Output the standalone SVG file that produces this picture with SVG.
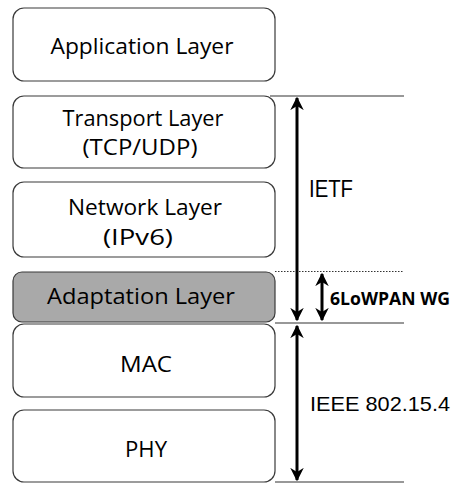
<svg xmlns="http://www.w3.org/2000/svg" width="456" height="483" viewBox="0 0 456 483">
<defs>
<style>
.box{fill:#ffffff;stroke:#3a3a3a;stroke-width:1.2}
.ad{fill:#a9a9a9;stroke:#3a3a3a;stroke-width:1.2}
.t{font-family:"Open Sans","Liberation Sans",sans-serif;font-size:21px;fill:#000;text-anchor:middle}
.lbl{font-family:"Liberation Sans",sans-serif;font-size:23px;fill:#000}
.wg{font-family:"Open Sans","Liberation Sans",sans-serif;font-size:18px;font-weight:bold;fill:#000}
.arr{stroke:#000;stroke-width:3;fill:none}
.ln{stroke:#333;stroke-width:1.2}
</style>
<marker id="ah" viewBox="0 0 10 10" refX="9" refY="5" markerWidth="4.5" markerHeight="4.5" orient="auto-start-reverse" markerUnits="strokeWidth">
<path d="M0,0 L10,5 L0,10 L3,5 z" fill="#000"/>
</marker>
</defs>
<g id="application"><rect class="box" x="13" y="8" width="262" height="73" rx="11"/><text class="t" x="142" y="54" textLength="183" lengthAdjust="spacingAndGlyphs">Application Layer</text></g>
<g id="transport"><rect class="box" x="13" y="96" width="262" height="72" rx="11"/><text class="t" x="143" y="126" textLength="161" lengthAdjust="spacingAndGlyphs">Transport Layer</text><text class="t" x="140" y="155" textLength="115" lengthAdjust="spacingAndGlyphs">(TCP/UDP)</text></g>
<g id="network"><rect class="box" x="13" y="182" width="262" height="75" rx="11"/><text class="t" x="145" y="215" textLength="154" lengthAdjust="spacingAndGlyphs">Network Layer</text><text class="t" x="138" y="245" textLength="70" lengthAdjust="spacingAndGlyphs">(IPv6)</text></g>
<g id="adaptation"><rect class="ad" x="13" y="272" width="262" height="50" rx="9"/><text class="t" x="141" y="304" textLength="188" lengthAdjust="spacingAndGlyphs">Adaptation Layer</text></g>
<g id="mac"><rect class="box" x="13" y="324" width="262" height="73" rx="11"/><text class="t" x="146" y="372" textLength="52" lengthAdjust="spacingAndGlyphs">MAC</text></g>
<g id="phy"><rect class="box" x="13" y="410" width="262" height="72" rx="11"/><text class="t" x="146" y="457" textLength="42" lengthAdjust="spacingAndGlyphs">PHY</text></g>
<g id="connectors">
<line class="ln" x1="270" y1="96" x2="404" y2="96"/>
<line class="ln" x1="275" y1="271.5" x2="404" y2="271.5" stroke-dasharray="1.5 1.5" stroke="#555"/>
<line class="ln" x1="275" y1="323" x2="404" y2="323" stroke="#111"/>
<line class="ln" x1="275" y1="482" x2="404" y2="482" stroke="#111"/>
<line class="arr" x1="297" y1="98" x2="297" y2="320" marker-start="url(#ah)" marker-end="url(#ah)"/>
<line class="arr" x1="322" y1="274" x2="322" y2="320" marker-start="url(#ah)" marker-end="url(#ah)"/>
<line class="arr" x1="297" y1="326" x2="297" y2="480" marker-start="url(#ah)" marker-end="url(#ah)"/>
</g>
<g id="labels">
<text class="lbl" x="309" y="197" textLength="44" lengthAdjust="spacingAndGlyphs">IETF</text>
<text class="wg" x="330" y="305" textLength="120" lengthAdjust="spacingAndGlyphs">6LoWPAN WG</text>
<text class="lbl" x="310" y="411" style="font-size:21px" textLength="140" lengthAdjust="spacingAndGlyphs">IEEE 802.15.4</text>
</g>
</svg>
